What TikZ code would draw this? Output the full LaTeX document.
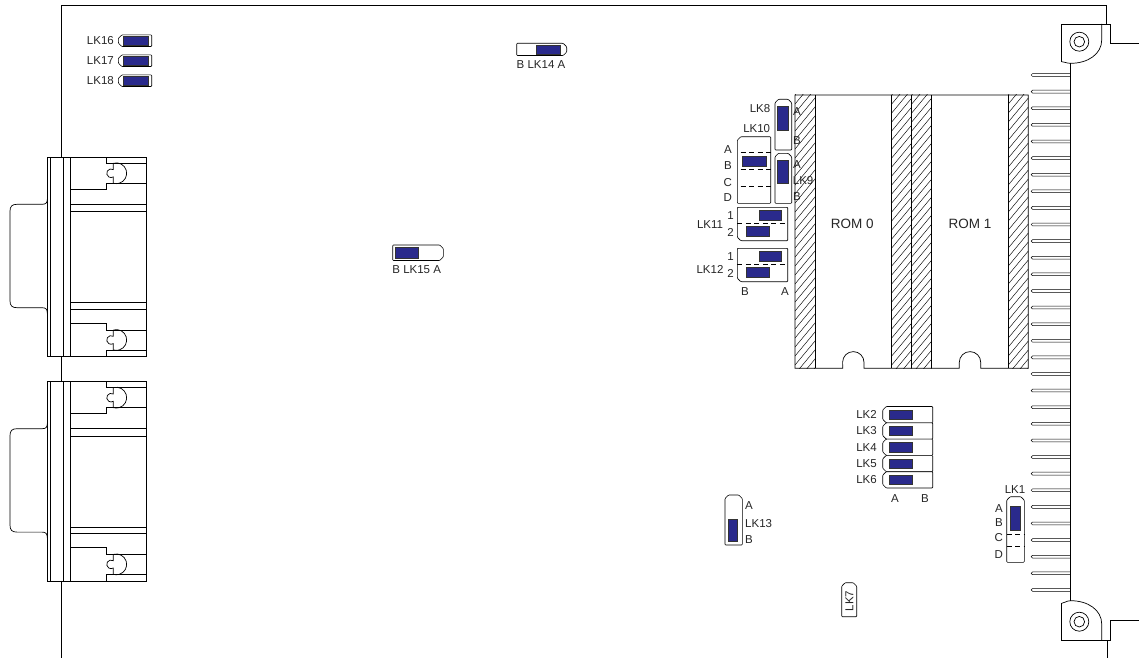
\documentclass[tikz,border=0pt]{standalone}
\usepackage{fontspec}
\setmainfont{Liberation Sans}
\definecolor{jblue}{RGB}{42,42,140}
\newcommand\housL[4]{\draw[hous] ({#1+3.5},#2) -- (#3,#2) -- (#3,#4) -- ({#1+3.5},#4) -- (#1,{#4-3.5}) -- (#1,{#2+3.5}) -- cycle;}
\newcommand\housR[4]{\draw[hous] (#1,#2) -- ({#3-3.5},#2) -- (#3,{#2+3.5}) -- (#3,{#4-3.5}) -- ({#3-3.5},#4) -- (#1,#4) -- cycle;}
\newcommand\housT[4]{\draw[hous] (#1,#4) -- (#1,{#2+3.5}) -- ({#1+3.5},#2) -- ({#3-3.5},#2) -- (#3,{#2+3.5}) -- (#3,#4) -- cycle;}
\newcommand\blk[4]{\draw[jmp] (#1,#2) rectangle (#3,#4);}
\newcommand\hatchstrip[2]{%
  \begin{scope}
    \clip (#1,95) rectangle (#2,368.3);
    \foreach \k in {0,...,34}{\draw[hatchln] (#1,{95+\k*9}) -- (#2,{95+\k*9-1.2*(#2-#1)});}
  \end{scope}}
\newcommand\dsubconn[1]{%
  \begin{scope}[shift={(0,#1)}]
    \draw[ol] (47.3,0) rectangle (146.7,199.4);
    \draw[ol] (50.5,0) -- (50.5,199.4);
    \draw[ol] (63.3,0) -- (63.3,199.4);
    \draw[ol] (70,0) -- (70,199.4);
    \draw[ol] (106,0) -- (106,6) -- (146.7,6);
    \draw[ol] (146.7,26) -- (106,26) -- (106,32) -- (70,32);
    \draw[ol] (70,46.7) -- (146.7,46.7);
    \draw[ol] (70,54.4) -- (146.7,54.4);
    \draw[ol] (70,145.4) -- (146.7,145.4);
    \draw[ol] (70,152) -- (146.7,152);
    \draw[ol] (70,166) -- (106,166) -- (106,172.7) -- (146.7,172.7);
    \draw[ol] (146.7,192.7) -- (106,192.7) -- (106,199.4);
    \foreach \c in {16,182.7}{
      \draw[ol] (113.3,{\c-10}) arc[start angle=-106.7,end angle=106.7,radius=10.4];
      \draw[ol] (113.3,{\c-10}) -- (113.3,{\c-3.7}) arc[start angle=-58.1,end angle=-301.9,radius=4.3] -- (113.3,{\c+10});
    }
    \draw[ol] (47.3,42) .. controls (47.3,45.5) and (46,47) .. (42,47) -- (17,47)
      .. controls (12,47) and (10,49) .. (10,54) -- (10,143.4)
      .. controls (10,148.4) and (12,150.4) .. (17,150.4) -- (42,150.4)
      .. controls (46,150.4) and (47.3,152) .. (47.3,156);
  \end{scope}}
\begin{document}
\begin{tikzpicture}[x=1pt,y=-1pt,
  ol/.style={draw=black,line width=0.7pt},
  hous/.style={draw=black,line width=0.6pt,fill=white,rounded corners=0.8pt},
  jmp/.style={fill=jblue,draw=black!80,line width=0.5pt},
  hatchln/.style={draw=black,line width=0.45pt},
  dsh/.style={draw=black,line width=0.6pt,dash pattern=on 5pt off 3.5pt},
  lbl/.style={font=\fontsize{11.5}{13}\selectfont,inner sep=0pt,text=black!85},
  romlbl/.style={font=\fontsize{13.5}{15}\selectfont,inner sep=0pt,text=black!85}]
\useasboundingbox (0,0) rectangle (1139,658);
% board outline
\draw[ol] (61,157.3) -- (61,5.7) -- (1106,5.7) -- (1106,24);
\draw[ol] (61,356.7) -- (61,381.7);
\draw[ol] (61,580.7) -- (61,658);
% top bracket
\draw[ol] (1061.7,61.7) -- (1061.7,24) -- (1110.7,24) -- (1110.7,43) -- (1139,43);
\draw[ol] (1101.7,24) -- (1101.7,40) .. controls (1101.7,54) and (1088,63.3) .. (1070.7,63.3)
  .. controls (1066,63.3) and (1064.5,61.7) .. (1061.7,61.7);
\draw[ol] (1079.3,41.7) circle[radius=9.5];
\draw[ol] (1079.3,41.7) circle[radius=5.3];
% bottom bracket
\draw[ol] (1061.7,603.3) -- (1061.7,640) -- (1110.7,640) -- (1110.7,620.7) -- (1139,620.7);
\draw[ol] (1107,640) -- (1107,658);
\draw[ol] (1061.7,603.3) .. controls (1064.5,603.3) and (1066,600.7) .. (1070.7,600.7)
  .. controls (1088,600.7) and (1101.7,610) .. (1101.7,624) -- (1101.7,640);
\draw[ol] (1079.3,621.7) circle[radius=9.5];
\draw[ol] (1079.3,621.7) circle[radius=5.3];
% edge connector spine and pins
\draw[ol] (1070.7,63.3) -- (1070.7,600.7);
\foreach \i in {0,...,31}{
  \pgfmathsetmacro\py{75+\i*16.61}
  \draw[draw=black,line width=0.5pt] (1070.7,{\py-1.4}) -- (1032.5,{\py-1.4}) arc[start angle=-90,end angle=-270,radius=1.4] -- (1070.7,{\py+1.4});
}
% D-sub connectors
\dsubconn{157.3}
\dsubconn{381.7}
% ROM sockets
\hatchstrip{795}{815.7}
\hatchstrip{891.7}{911.7}
\hatchstrip{911.7}{931.7}
\hatchstrip{1008.3}{1028.3}
\draw[ol] (795,95) -- (1028.3,95) -- (1028.3,368.3) -- (980.7,368.3) -- (980.7,362.3)
  arc[start angle=0,end angle=-180,radius=10.7] -- (959.3,368.3) -- (864,368.3) -- (864,362.3)
  arc[start angle=0,end angle=-180,radius=10.7] -- (842.7,368.3) -- (795,368.3) -- cycle;
\draw[ol] (815.7,95) -- (815.7,368.3);
\draw[ol] (891.7,95) -- (891.7,368.3);
\draw[draw=black,line width=1.4pt] (911.7,95) -- (911.7,368.3);
\draw[ol] (931.7,95) -- (931.7,368.3);
\draw[ol] (1008.3,95) -- (1008.3,368.3);
\node[romlbl] (rom0) at (852.3,224) {ROM 0};
\node[romlbl] (rom1) at (970,224) {ROM 1};
% LK16-18
\foreach \c/\n in {40.7/16,60.7/17,80.7/18}{
  \housL{118.3}{\c-5.8}{151.7}{\c+5.8}
  \blk{123.3}{\c-4.2}{148.3}{\c+4.2}
  \node[lbl,anchor=east] (lk\n) at (114,\c) {LK\n};
}
% LK14
\housR{516.7}{43.3}{566.7}{55.5}
\blk{536}{44.8}{560}{54}
\node[lbl] (lk14) at (541,64.8) {B LK14 A};
% LK15
\housR{392.7}{245}{443.3}{260.5}
\blk{395}{247.5}{418.3}{258.3}
\node[lbl] (lk15) at (416.7,269.8) {B LK15 A};
% LK8
\housT{775}{99.3}{791.7}{150}
\blk{777.7}{106}{788.3}{130}
\node[lbl] (lk8) at (760,108.3) {LK8};
\node[lbl,anchor=west] (lk8a) at (793,111.7) {A};
\node[lbl,anchor=west] (lk8b) at (793,140.7) {B};
% LK10
\node[lbl] (lk10) at (756.7,128.3) {LK10};
\draw[hous] (737.3,203.3) -- (737.3,140.2) -- (740.8,136.7) -- (770.7,136.7) -- (770.7,203.3) -- cycle;
\foreach \yy in {152.7,169.3,186.7}{\draw[dsh] (740.5,\yy) -- (770.7,\yy);}
\blk{742.3}{156.7}{766}{166.7}
\foreach \yy/\t in {150/A,166/B,182.7/C,197.3/D}{\node[lbl,anchor=east] (lk10\t) at (732,\yy) {\t};}
% LK9
\housT{775}{153.3}{791.7}{203.3}
\blk{777.3}{160}{788.3}{183.3}
\node[lbl,anchor=west] (lk9a) at (793,165) {A};
\node[lbl,anchor=west] (lk9) at (792.7,180.7) {LK9};
\node[lbl,anchor=west] (lk9b) at (793,196.7) {B};
% LK11 / LK12
\foreach \o/\n/\ly in {0/11/225,41/12/269}{
  \begin{scope}[shift={(0,\o)}]
    \draw[hous] (737.3,207.3) -- (787.7,207.3) -- (787.7,240.7) -- (740.8,240.7) -- (737.3,237.2) -- cycle;
    \draw[dsh] (737.3,223.3) -- (787.7,223.3);
    \blk{759}{210}{781.7}{220.7}
    \blk{746}{226}{769.3}{236.7}
    \node[lbl,anchor=east] (lk\n one) at (734,216) {1};
    \node[lbl,anchor=east] (lk\n two) at (734,232.7) {2};
  \end{scope}
  \node[lbl] (lk\n) at (710,\ly) {LK\n};
}
\node[lbl] (lk12b) at (745,291.7) {B};
\node[lbl] (lk12a) at (785,291.7) {A};
% LK2-LK6
\foreach \r/\n in {0/2,1/3,2/4,3/5,4/6}{
  \pgfmathsetmacro\ty{406.5+\r*16.3}
  \housL{882.7}{\ty}{932.7}{\ty+16.3}
  \blk{889.3}{\ty+3.4}{912.7}{\ty+12.9}
  \node[lbl,anchor=east] (lk\n) at (877,\ty+8.15) {LK\n};
}
\node[lbl] (lk6a) at (895,498.3) {A};
\node[lbl] (lk6b) at (925,498.3) {B};
% LK1
\node[lbl] (lk1) at (1015,490) {LK1};
\housT{1006.7}{496.7}{1024.3}{562.3}
\blk{1010}{506.7}{1020.7}{530}
\draw[dsh] (1006.7,533.8) -- (1024.3,533.8);
\draw[dsh] (1006.7,546.7) -- (1024.3,546.7);
\foreach \yy/\t in {508.3/A,522.7/B,537.7/C,555/D}{\node[lbl,anchor=east] (lk1\t) at (1003,\yy) {\t};}
% LK13
\housT{725}{495}{742.3}{545}
\blk{728.3}{519.3}{737.3}{541.7}
\node[lbl,anchor=west] (lk13a) at (745,506) {A};
\node[lbl,anchor=west] (lk13) at (745,523.3) {LK13};
\node[lbl,anchor=west] (lk13b) at (745,539.3) {B};
% LK7
\housT{841.7}{582.7}{856.7}{616.7}
\node[lbl,rotate=90] (lk7) at (849.4,601) {LK7};
\end{tikzpicture}
\end{document}
